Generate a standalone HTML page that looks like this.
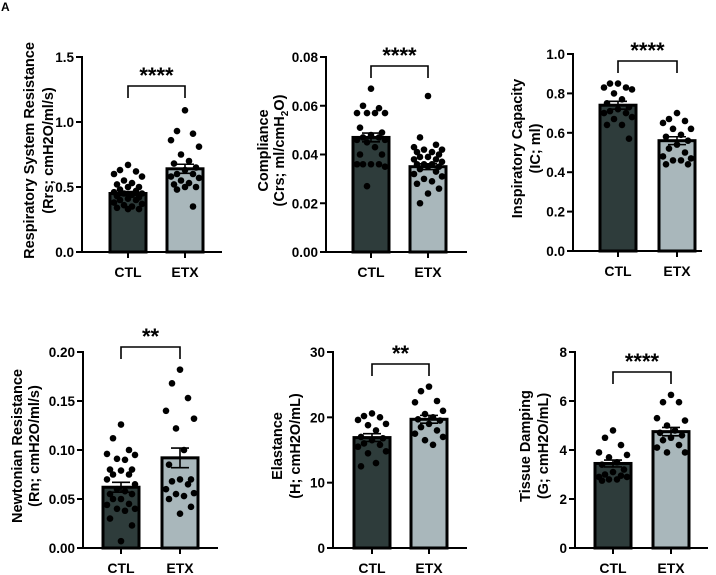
<!DOCTYPE html>
<html><head><meta charset="utf-8"><style>
body{margin:0;background:#fff;}
svg{display:block;font-family:"Liberation Sans",Arial,sans-serif;font-weight:bold;}
</style></head><body>
<svg id="fig" width="716" height="575" viewBox="0 0 716 575">
<text x="1" y="11" font-size="12">A</text>
</svg>
<script>
const groups = ["CTL","ETX"];
// Panel A: respiratory system resistance
const rrsCTL = [0.67,0.63,0.62,0.60,0.58,0.55,0.53,0.52,0.50,0.50,0.48,0.47,0.46,0.45,0.45,0.44,0.43,0.42,0.41,0.40,0.40,0.38,0.37,0.36,0.35,0.34,0.33,0.33];
const rrsETX = [1.09,0.93,0.91,0.86,0.81,0.75,0.70,0.68,0.65,0.63,0.60,0.60,0.58,0.57,0.55,0.53,0.52,0.50,0.50,0.48,0.35];
const rrsMean = [0.45,0.64];
const rrsSem = [0.015,0.035];
const rrsTicks = [0,0.5,1.0,1.5];
// Panel B: compliance
const crsCTL = [0.067,0.060,0.059,0.057,0.057,0.057,0.057,0.051,0.049,0.048,0.047,0.047,0.046,0.046,0.045,0.043,0.040,0.040,0.036,0.036,0.036,0.036,0.035,0.027];
const crsETX = [0.064,0.047,0.044,0.043,0.042,0.042,0.041,0.041,0.040,0.039,0.039,0.038,0.038,0.037,0.036,0.036,0.036,0.035,0.035,0.034,0.033,0.032,0.031,0.030,0.029,0.028,0.026,0.024,0.020];
const crsMean = [0.047,0.035];
const crsSem = [0.0018,0.0012];
const crsTicks = [0,0.02,0.04,0.06,0.08];
// Panel C: inspiratory capacity
const icCTL = [0.85,0.85,0.83,0.83,0.82,0.80,0.77,0.75,0.73,0.72,0.71,0.70,0.70,0.68,0.67,0.64,0.64,0.57];
const icETX = [0.70,0.67,0.66,0.65,0.62,0.62,0.59,0.58,0.56,0.54,0.52,0.50,0.48,0.47,0.46,0.46,0.44,0.44];
const icMean = [0.74,0.56];
const icSem = [0.02,0.02];
const icTicks = [0,0.2,0.4,0.6,0.8,1.0];
// Panel D: newtonian resistance
const rnCTL = [0.126,0.112,0.100,0.096,0.095,0.091,0.090,0.080,0.080,0.079,0.075,0.075,0.070,0.065,0.060,0.058,0.055,0.055,0.050,0.050,0.045,0.044,0.040,0.040,0.038,0.030,0.023,0.007];
const rnETX = [0.182,0.168,0.153,0.140,0.132,0.122,0.100,0.085,0.070,0.070,0.068,0.065,0.060,0.056,0.055,0.053,0.050,0.042,0.035];
const rnMean = [0.062,0.092];
const rnSem = [0.005,0.010];
const rnTicks = [0,0.05,0.10,0.15,0.20];
// Panel E: elastance
const hCTL = [20.6,20.2,20.0,19.6,19.0,18.8,18.0,17.0,16.8,16.5,16.0,15.8,15.5,14.8,14.5,13.0,12.5];
const hETX = [24.7,24.0,22.5,22.3,21.0,20.5,20.0,19.7,19.5,19.0,18.5,18.0,17.5,17.0,16.5,15.8];
const hMean = [16.9,19.7];
const hSem = [0.6,0.6];
const hTicks = [0,10,20,30];
// Panel F: tissue damping
const gCTL = [4.8,4.5,4.2,3.9,3.8,3.7,3.5,3.4,3.2,3.1,3.0,2.95,2.9,2.9,2.8,2.8,2.75];
const gETX = [6.25,5.95,5.95,5.3,5.2,5.0,4.8,4.7,4.6,4.5,4.4,4.2,4.1,3.9,3.9];
const gMean = [3.45,4.75];
const gSem = [0.14,0.17];
const gTicks = [0,2,4,6,8];

const NS="http://www.w3.org/2000/svg";
const svg=document.getElementById('fig');
function mk(tag,attrs,parent){const e=document.createElementNS(NS,tag);for(const k in attrs)e.setAttribute(k,attrs[k]);(parent||svg).appendChild(e);return e;}
function fmt(v,d){return v.toFixed(d);}

function panel(o){
  const g=mk('g',{});
  
  
  const ymax=o.ticks[o.ticks.length-1];
  const y=v=>o.y0-(v/ymax)*(o.y0-o.y1);
  const cx=[o.c1,o.c2];
  const fills=['#2e3c3b','#a9b7bb'];
  const pts=[o.ctl,o.etx];
  const bw=36;
  for(let i=0;i<2;i++){
    const top=y(o.mean[i]);
    const b=mk('rect',{x:cx[i]-bw/2,y:top,width:bw,height:o.y0-top,fill:fills[i],stroke:'#000','stroke-width':3},g);
    
    
    const offs=[0,-8,8,-14,14,-4,4,-11,11];
    pts[i].forEach((v,j)=>{
      const c=mk('circle',{cx:cx[i]+offs[j%offs.length],cy:y(v),r:3.3,fill:'#000'},g);
      
      
    });
    const e1=y(o.mean[i]+o.sem[i]),e0=y(o.mean[i]-o.sem[i]);
    const eb=mk('path',{d:`M${cx[i]} ${e0}V${e1}M${cx[i]-9} ${e1}H${cx[i]+9}M${cx[i]-9} ${e0}H${cx[i]+9}`,stroke:'#000','stroke-width':1.6,fill:'none'},g);
    
    
  }
  const ax=mk('path',{d:`M${o.ax} ${o.y1-1}V${o.y0}H${o.xend}`,stroke:'#000','stroke-width':2,fill:'none'},g);
  
  
  o.ticks.forEach(t=>{
    mk('line',{x1:o.ax-6,x2:o.ax,y1:y(t),y2:y(t),stroke:'#000','stroke-width':2},g);
    const tl=mk('text',{x:o.ax-8,y:y(t)+5,'font-size':13.5,'text-anchor':'end'},g);
    tl.textContent=fmt(t,o.dec);
    
    
  });
  for(let i=0;i<2;i++){
    mk('line',{x1:cx[i],x2:cx[i],y1:o.y0,y2:o.y0+6,stroke:'#000','stroke-width':2},g);
    const xl=mk('text',{x:cx[i],y:o.y0+25,'font-size':14,'text-anchor':'middle'},g);
    xl.textContent=groups[i];
    
    
  }
  const bt=o.brTop;
  const br=mk('path',{d:`M${cx[0]} ${bt+12}V${bt}H${cx[1]}V${bt+12}`,stroke:'#000','stroke-width':1.6,fill:'none'},g);
  
  
  const st=mk('text',{x:(cx[0]+cx[1])/2,y:bt-3,'font-size':22,'text-anchor':'middle'},g);
  st.textContent=o.stars;
  
  
  const cy=(o.y0+o.y1)/2-4;
  o.title.forEach((line,k)=>{
    const tx=o.tx[k];
    const t=mk('text',{x:tx,y:cy,'font-size':14.5,'text-anchor':'middle',transform:`rotate(-90 ${tx} ${cy})`},g);
    t.innerHTML=line;
    
    
  });
}
panel({name:'panel-resistance',ctl:rrsCTL,etx:rrsETX,mean:rrsMean,sem:rrsSem,ticks:rrsTicks,dec:1,ax:82,y0:252,y1:57,c1:128,c2:185,xend:222,brTop:86,stars:'****',tx:[34,53],title:['Respiratory System Resistance','(Rrs; cmH2O/ml/s)']});
panel({name:'panel-compliance',ctl:crsCTL,etx:crsETX,mean:crsMean,sem:crsSem,ticks:crsTicks,dec:2,ax:326,y0:252,y1:57,c1:371,c2:428,xend:467,brTop:66,stars:'****',tx:[268,284],title:['Compliance','(Crs; ml/cmH<tspan font-size="10" dy="4">2</tspan><tspan dy="-4">O)</tspan>']});
panel({name:'panel-inspiratory-capacity',ctl:icCTL,etx:icETX,mean:icMean,sem:icSem,ticks:icTicks,dec:1,ax:573,y0:251,y1:54,c1:618,c2:677,xend:702,brTop:61,stars:'****',tx:[522,540],title:['Inspiratory Capacity','(IC; ml)']});
panel({name:'panel-newtonian-resistance',ctl:rnCTL,etx:rnETX,mean:rnMean,sem:rnSem,ticks:rnTicks,dec:2,ax:83,y0:548,y1:352,c1:121,c2:180,xend:218,brTop:347,stars:'**',tx:[22,39],title:['Newtonian Resistance','(Rn; cmH2O/ml/s)']});
panel({name:'panel-elastance',ctl:hCTL,etx:hETX,mean:hMean,sem:hSem,ticks:hTicks,dec:0,ax:333,y0:548,y1:352,c1:372,c2:429,xend:467,brTop:364,stars:'**',tx:[282,300],title:['Elastance','(H; cmH2O/mL)']});
panel({name:'panel-tissue-damping',ctl:gCTL,etx:gETX,mean:gMean,sem:gSem,ticks:gTicks,dec:0,ax:575,y0:548,y1:352,c1:613,c2:671,xend:708,brTop:372,stars:'****',tx:[530,548],title:['Tissue Damping','(G; cmH2O/mL)']});
</script>
</body></html>
